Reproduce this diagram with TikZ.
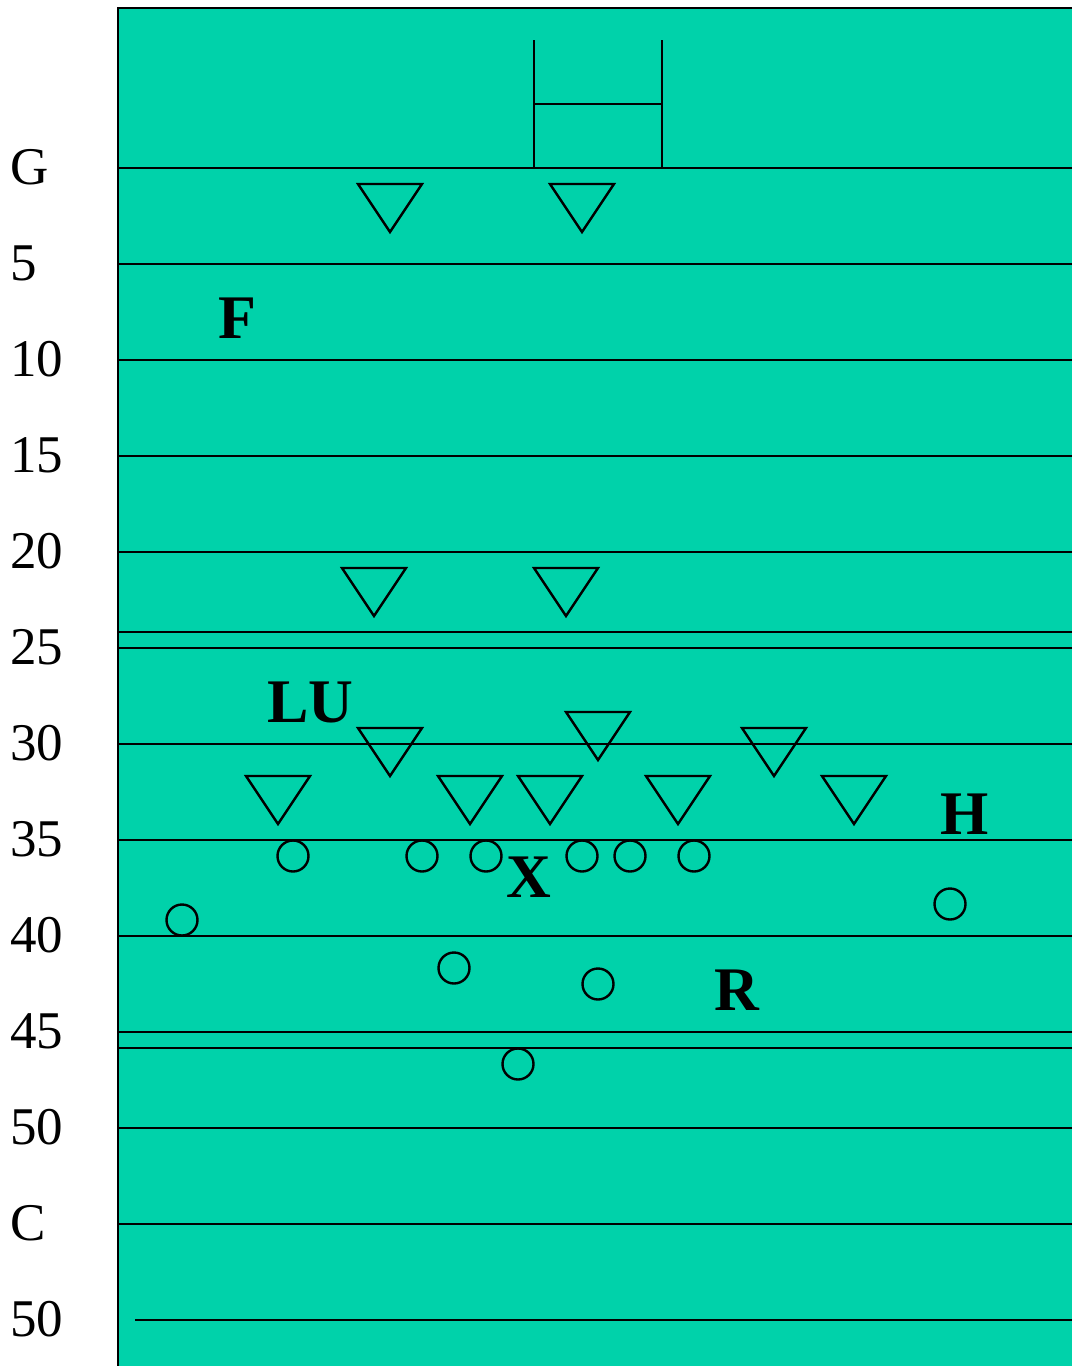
\documentclass[tikz,border=0pt]{standalone}
\usepackage{fontspec}
\setmainfont{Liberation Serif}
\definecolor{field}{RGB}{0,210,170}
\begin{document}
\begin{tikzpicture}[x=1pt,y=-1pt,
  yardline/.style={line width=2.4pt,black},
  yardlabel/.style={anchor=base west,inner sep=0pt,font=\fontsize{53}{53}\selectfont},
  player/.style={anchor=base west,inner sep=0pt,font=\fontsize{62}{62}\selectfont\bfseries},
  offense/.style={circle,draw,line width=2.4pt,minimum size=31pt,inner sep=0pt},
  defense/.style={line width=2.4pt,line join=miter}]
\useasboundingbox (0,0) rectangle (1072,1366);
\fill[field] (118,8) rectangle (1072,1366);
\draw[line width=2.4pt] (118,1366) -- (118,8) -- (1072,8);
% yard lines
\foreach \yy in {168,264,360,456,552,632,648,744,840,936,1032,1048,1128,1224}
  \draw[yardline] (118,\yy) -- (1072,\yy);
\draw[yardline] (135,1320) -- (1072,1320);
% goal posts
\coordinate (gpl) at (534,168);
\coordinate (gpr) at (662,168);
\draw[yardline] (gpl) -- (534,40);
\draw[yardline] (gpr) -- (662,40);
\draw[yardline] (534,104) -- (662,104);
% yard labels
\node[yardlabel] (lG) at (10,184) {G};
\node[yardlabel] (l5) at (10,280) {5};
\node[yardlabel] (l10) at (10,376) {10};
\node[yardlabel] (l15) at (10,472) {15};
\node[yardlabel] (l20) at (10,568) {20};
\node[yardlabel] (l25) at (10,664) {25};
\node[yardlabel] (l30) at (10,760) {30};
\node[yardlabel] (l35) at (10,856) {35};
\node[yardlabel] (l40) at (10,952) {40};
\node[yardlabel] (l45) at (10,1048) {45};
\node[yardlabel] (l50a) at (10,1144) {50};
\node[yardlabel] (lC) at (10,1240) {C};
\node[yardlabel] (l50b) at (10,1336) {50};
% defenders (inverted triangles): apex x, top y
\foreach \cx/\ty in {390/184,582/184,374/568,566/568,390/728,598/712,774/728,278/776,470/776,550/776,678/776,854/776}
  \draw[defense] (\cx-32,\ty) -- (\cx+32,\ty) -- (\cx,\ty+48) -- cycle;
% offense circles
\node[offense] (o1) at (293,856) {};
\node[offense] (o2) at (422,856) {};
\node[offense] (o3) at (486,856) {};
\node[offense] (o4) at (582,856) {};
\node[offense] (o5) at (630,856) {};
\node[offense] (o6) at (694,856) {};
\node[offense] (o7) at (182,920) {};
\node[offense] (o8) at (950,904) {};
\node[offense] (o9) at (454,968) {};
\node[offense] (o10) at (598,984) {};
\node[offense] (o11) at (518,1064) {};
% labels
\node[player] (pF) at (218,338) {F};
\node[player] (pLU) at (267,722) {LU};
\node[player] (pX) at (506,897) {X};
\node[player] (pH) at (940,834) {H};
\node[player] (pR) at (714,1010) {R};
\end{tikzpicture}
\end{document}
